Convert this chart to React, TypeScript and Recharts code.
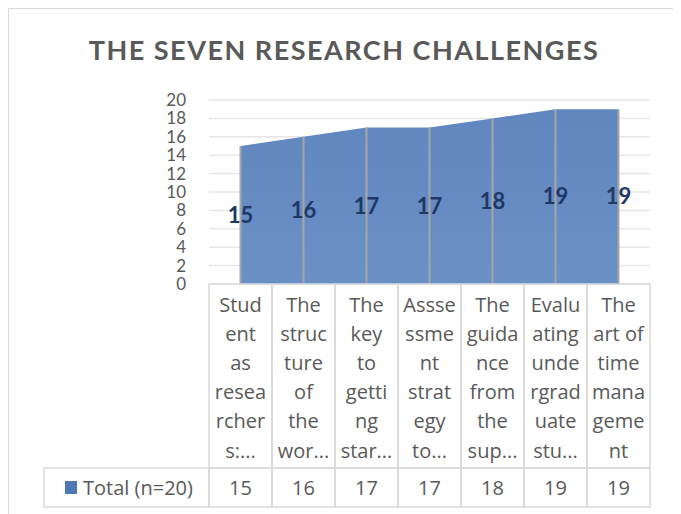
import React from "react";
import {
  AreaChart, Area, XAxis, YAxis, CartesianGrid, ReferenceLine, ReferenceDot,
} from "recharts";

const title = "THE SEVEN RESEARCH CHALLENGES";
const seriesName = "Total (n=20)";

// category labels as they wrap in the data table
const categoryLines = [
  ["Stud", "ent", "as", "resea", "rcher", "s:..."],
  ["The", "struc", "ture", "of", "the", "wor..."],
  ["The", "key", "to", "getti", "ng", "star..."],
  ["Assse", "ssme", "nt", "strat", "egy", "to..."],
  ["The", "guida", "nce", "from", "the", "sup..."],
  ["Evalu", "ating", "unde", "rgrad", "uate", "stu..."],
  ["The", "art of", "time", "mana", "geme", "nt"],
];
const categories = categoryLines.map(l => l.join(" "));
const totals = [15, 16, 17, 17, 18, 19, 19];
const yTicks = [0, 2, 4, 6, 8, 10, 12, 14, 16, 18, 20];

const data = categories.map((name, i) => ({ name, total: totals[i] }));

const FONT = "Lato, 'Open Sans', sans-serif";
const TABLE_FONT = "'Open Sans', Lato, sans-serif";
const TEXT = "#595959";
const BORDER = "#d9d9d9";
const COL = 63;

function TableTick(props: any) {
  const { x, y, index } = props;
  const top = y;
  const left = x - COL / 2;
  const lines = categoryLines[index] || [];
  return (
    <g>
      <rect x={left} y={top} width={COL} height={184} fill="none" stroke={BORDER} strokeWidth={1.5} />
      <rect x={left} y={top + 184} width={COL} height={39} fill="none" stroke={BORDER} strokeWidth={1.5} />
      {lines.map((t, k) => (
        <text key={k} x={x} y={top + 20 + k * 29.2} textAnchor="middle" dominantBaseline="central"
          fontFamily={TABLE_FONT} fontSize={20} fill={TEXT}>{t}</text>
      ))}
      <text x={x} y={top + 203} textAnchor="middle" dominantBaseline="central"
        fontFamily={TABLE_FONT} fontSize={20} fill={TEXT}>{totals[index]}</text>
      {index === 0 && (
        <g>
          <rect x={35} y={top + 184} width={left - 35} height={39} fill="none" stroke={BORDER} strokeWidth={1.5} />
          <rect x={56} y={top + 197} width={12} height={13} fill="#4f79b5" />
          <text x={74} y={top + 203} dominantBaseline="central" fontFamily={TABLE_FONT} fontSize={20} fill={TEXT}>
            {seriesName}
          </text>
        </g>
      )}
    </g>
  );
}

export default function App() {
  return (
    <div style={{ position: "relative", width: 670, height: 520, border: `1px solid ${BORDER}`, background: "#fff" }}>
      <div style={{
        position: "absolute", left: 0, width: 670, top: 24, textAlign: "center",
        fontFamily: FONT, fontWeight: 700, fontSize: 27, letterSpacing: 1.5, color: TEXT,
      }}>
        {title}
      </div>
      <div style={{ position: "absolute", left: 0, top: 0 }}>
        <AreaChart width={670} height={505} data={data} margin={{ top: 91, right: 29, bottom: 0, left: 0 }}>
          <defs>
            <linearGradient id="fillBlue" x1="0" y1="0" x2="0" y2="1">
              <stop offset="0%" stopColor="#5f86be" />
              <stop offset="100%" stopColor="#6b90c6" />
            </linearGradient>
          </defs>
          <CartesianGrid horizontal vertical={false} stroke="#e6e6e6" strokeWidth={1.5} />
          <XAxis dataKey="name" height={230} axisLine={false} tickLine={false} tickSize={0} tickMargin={0}
            padding={{ left: COL / 2, right: COL / 2 }} interval={0} tick={<TableTick />} />
          <YAxis width={200} domain={[0, 20]} ticks={yTicks} axisLine={false} tickLine={false} tickSize={0}
            tickMargin={23} interval={0}
            tick={{ fill: TEXT, fontSize: 17, fontFamily: FONT }} />
          <Area type="linear" dataKey="total" stroke="none" fill="url(#fillBlue)" fillOpacity={1}
            isAnimationActive={false} dot={false} activeDot={false} />
          {categories.map((c, i) => (
            <ReferenceLine key={"l" + i} segment={[{ x: c, y: 0 }, { x: c, y: totals[i] }]}
              stroke="#a6a6a6" strokeWidth={2} />
          ))}
          {categories.map((c, i) => (
            <ReferenceDot key={"d" + i} x={c} y={totals[i] / 2} r={0} stroke="none"
              label={{ value: totals[i], position: "center", fill: "#203864", fontSize: 22,
                fontWeight: 700, fontFamily: FONT }} />
          ))}
        </AreaChart>
      </div>
    </div>
  );
}
